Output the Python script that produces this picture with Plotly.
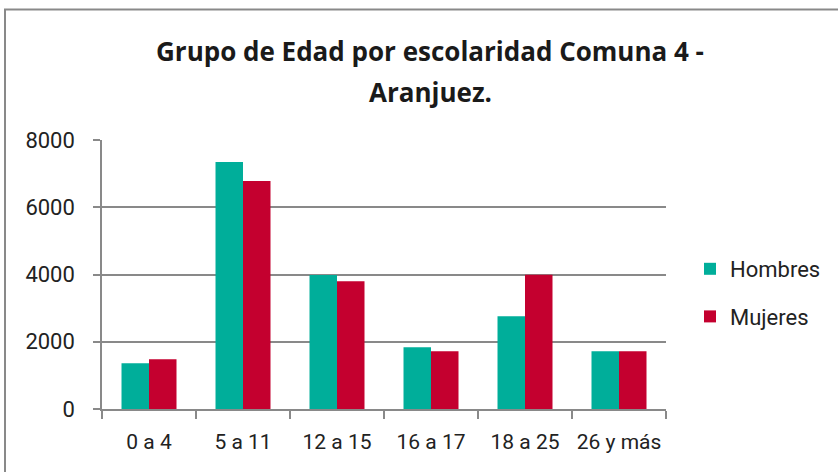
import plotly.graph_objects as go

categories = ["0 a 4", "5 a 11", "12 a 15", "16 a 17", "18 a 25", "26 y más"]
hombres = [1360, 7345, 3985, 1836, 2759, 1717]
mujeres = [1479, 6779, 3801, 1717, 3990, 1717]
series_names = ["Hombres", "Mujeres"]
y_ticks = [0, 2000, 4000, 6000, 8000]
title_lines = ["Grupo de Edad por escolaridad Comuna 4 -", "Aranjuez."]

W, H = 838, 472
L, R, T, B = 102, 666, 140, 409

def px(x):
    return (x - L) / (R - L)

def py(y):
    return (B - y) / (B - T)

FONT = "Roboto"
TFONT = "Open Sans"
fig = go.Figure()
fig.add_trace(go.Bar(x=categories, y=hombres, name=series_names[0],
                     marker=dict(color="#00AE9A", line=dict(width=0)),
                     legendgroup="h"))
fig.add_trace(go.Bar(x=categories, y=mujeres, name=series_names[1],
                     marker=dict(color="#C4002F", line=dict(width=0)),
                     legendgroup="m"))

fig.update_layout(
    width=W, height=H,
    margin=dict(l=L, r=W - R, t=T, b=H - B, autoexpand=False),
    paper_bgcolor="white", plot_bgcolor="white",
    barmode="group", bargap=0.415, bargroupgap=0,
    font=dict(family=FONT, size=22, color="#222222"),
    showlegend=True,
    legend=dict(x=px(690), y=py(248), xanchor="left", yanchor="top",
                font=dict(size=22, color="#222222"),
                tracegroupgap=16, itemwidth=30,
                bgcolor="rgba(0,0,0,0)"),
    xaxis=dict(type="category", showgrid=False,
               showline=True, linecolor="#898989", linewidth=1.5,
               ticks="outside", tickson="boundaries", ticklen=8,
               tickcolor="#898989", tickwidth=1.5, tickangle=0,
               tickfont=dict(size=21, color="#222222"),
               ticklabelstandoff=13),
    yaxis=dict(range=[0, 8000], tickvals=y_ticks,
               showgrid=True, gridcolor="#898989", gridwidth=1.5,
               showline=True, linecolor="#898989", linewidth=1.5,
               ticks="outside", ticklen=7, tickcolor="#898989", tickwidth=1.5,
               tickfont=dict(size=22, color="#222222"),
               zeroline=False, ticklabelstandoff=14),
    annotations=[
        dict(text="<b>" + title_lines[0] + "</b>",
             xref="paper", yref="paper", x=px(430), y=py(51),
             xanchor="center", yanchor="middle", showarrow=False,
             font=dict(family=TFONT, size=26, color="#1a1a1a")),
        dict(text="<b>" + title_lines[1] + "</b>",
             xref="paper", yref="paper", x=px(430), y=py(92),
             xanchor="center", yanchor="middle", showarrow=False,
             font=dict(family=TFONT, size=26, color="#1a1a1a")),
    ],
    shapes=[dict(type="rect", xref="paper", yref="paper",
                 x0=px(5), x1=px(845), y0=py(480), y1=py(9.5),
                 line=dict(color="#898989", width=2), fillcolor="rgba(0,0,0,0)",
                 layer="below")],
)

fig.write_html("out.html", config={"displayModeBar": False},
               post_script="document.body.style.margin='0px';")
